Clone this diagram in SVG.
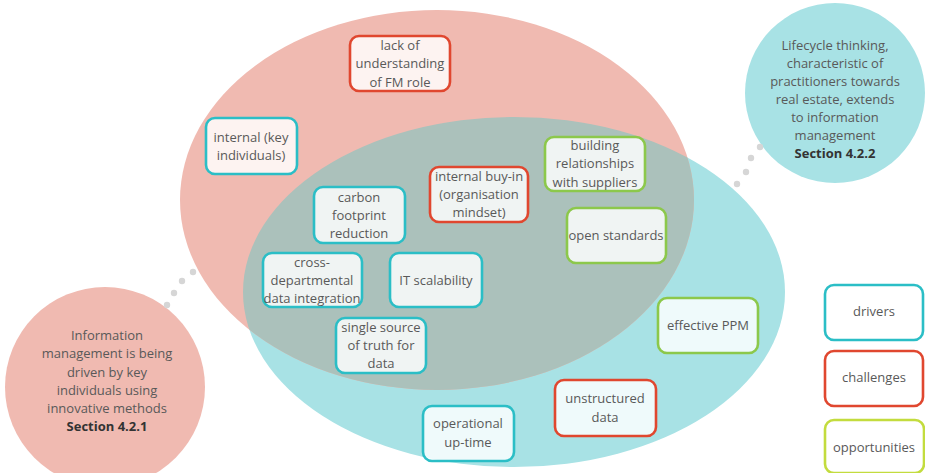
<svg xmlns="http://www.w3.org/2000/svg" width="925" height="473" viewBox="0 0 925 473">
<defs>
<clipPath id="cyanClip"><ellipse cx="514" cy="292" rx="271" ry="175"/></clipPath>
<style>
text{font-family:"Open Sans","Liberation Sans",sans-serif;font-size:13px;fill:#595959;text-anchor:middle}
.b{font-weight:bold;fill:#333}
.box{fill:#ffffff;fill-opacity:0.82;stroke-width:2.6}
.drv{stroke:#2bbec6}
.chl{stroke:#e0472f}
.opp{stroke:#8cc84b}
.opp2{stroke:#c3dc3e}
.dot{fill:#d6d6d6}
</style>
</defs>
<rect width="925" height="473" fill="#ffffff"/>
<g id="areas">
<ellipse cx="514" cy="292" rx="271" ry="175" fill="#a8e2e5"/>
<ellipse cx="437" cy="200" rx="257" ry="190" fill="#f0bab1"/>
<ellipse cx="437" cy="200" rx="257" ry="190" fill="#abc1bb" clip-path="url(#cyanClip)"/>
</g>
<g id="circle-left">
<circle cx="105" cy="387" r="100" fill="#f0bab1"/>
<text x="107" y="340">Information</text>
<text x="107" y="358">management is being</text>
<text x="107" y="377">driven by key</text>
<text x="107" y="395">individuals using</text>
<text x="107" y="413">innovative methods</text>
<text x="107" y="431" class="b">Section 4.2.1</text>
</g>
<g id="circle-right">
<circle cx="835" cy="93" r="90" fill="#a8e2e5"/>
<text x="835" y="50">Lifecycle thinking,</text>
<text x="835" y="68">characteristic of</text>
<text x="835" y="86">practitioners towards</text>
<text x="835" y="104">real estate, extends</text>
<text x="835" y="122">to information</text>
<text x="835" y="140">management</text>
<text x="835" y="158" class="b">Section 4.2.2</text>
</g>
<g id="connectors">
<circle class="dot" cx="193" cy="272" r="3.2"/>
<circle class="dot" cx="182" cy="281" r="3.2"/>
<circle class="dot" cx="174" cy="293" r="3.2"/>
<circle class="dot" cx="167" cy="305" r="3.2"/>
<circle class="dot" cx="760" cy="147" r="3.2"/>
<circle class="dot" cx="751" cy="158" r="3.2"/>
<circle class="dot" cx="746" cy="172" r="3.2"/>
<circle class="dot" cx="737" cy="184" r="3.2"/>
</g>
<g id="lack-of-understanding">
<rect class="box chl" x="350" y="36" width="100" height="55" rx="9"/>
<text x="400" y="50">lack of</text>
<text x="400" y="68">understanding</text>
<text x="400" y="87">of FM role</text>
</g>
<g id="internal-key-individuals">
<rect class="box drv" x="206" y="118" width="91" height="56" rx="9"/>
<text x="251" y="142">internal (key</text>
<text x="251" y="160">individuals)</text>
</g>
<g id="internal-buy-in">
<rect class="box chl" x="430" y="167" width="98" height="55" rx="9"/>
<text x="479" y="181">internal buy-in</text>
<text x="479" y="199">(organisation</text>
<text x="479" y="217">mindset)</text>
</g>
<g id="building-relationships">
<rect class="box opp" x="545" y="137" width="100" height="54" rx="9"/>
<text x="595" y="150">building</text>
<text x="595" y="168">relationships</text>
<text x="595" y="187">with suppliers</text>
</g>
<g id="open-standards">
<rect class="box opp" x="567" y="208" width="99" height="55" rx="9"/>
<text x="616" y="240">open standards</text>
</g>
<g id="carbon-footprint">
<rect class="box drv" x="314" y="187" width="91" height="56" rx="9"/>
<text x="359" y="202">carbon</text>
<text x="359" y="220">footprint</text>
<text x="359" y="238">reduction</text>
</g>
<g id="cross-departmental">
<rect class="box drv" x="263" y="253" width="99" height="54" rx="9"/>
<text x="312" y="267">cross-</text>
<text x="312" y="285">departmental</text>
<text x="312" y="303">data integration</text>
</g>
<g id="it-scalability">
<rect class="box drv" x="390" y="253" width="92" height="54" rx="9"/>
<text x="436" y="285">IT scalability</text>
</g>
<g id="single-source">
<rect class="box drv" x="336" y="318" width="90" height="55" rx="9"/>
<text x="381" y="332">single source</text>
<text x="381" y="350">of truth for</text>
<text x="381" y="368">data</text>
</g>
<g id="effective-ppm">
<rect class="box opp" x="658" y="298" width="100" height="55" rx="9"/>
<text x="708" y="330">effective PPM</text>
</g>
<g id="unstructured-data">
<rect class="box chl" x="555" y="380" width="101" height="56" rx="9"/>
<text x="605" y="403">unstructured</text>
<text x="605" y="422">data</text>
</g>
<g id="operational-up-time">
<rect class="box drv" x="423" y="406" width="91" height="55" rx="9"/>
<text x="468" y="428">operational</text>
<text x="468" y="447">up-time</text>
</g>
<g id="legend-drivers">
<rect class="box drv" x="825" y="285" width="98" height="55" rx="9"/>
<text x="874" y="316">drivers</text>
</g>
<g id="legend-challenges">
<rect class="box chl" x="825" y="351" width="98" height="55" rx="9"/>
<text x="874" y="382">challenges</text>
</g>
<g id="legend-opportunities">
<rect class="box opp2" x="825" y="420" width="99" height="53" rx="9"/>
<text x="874" y="452">opportunities</text>
</g>
</svg>
